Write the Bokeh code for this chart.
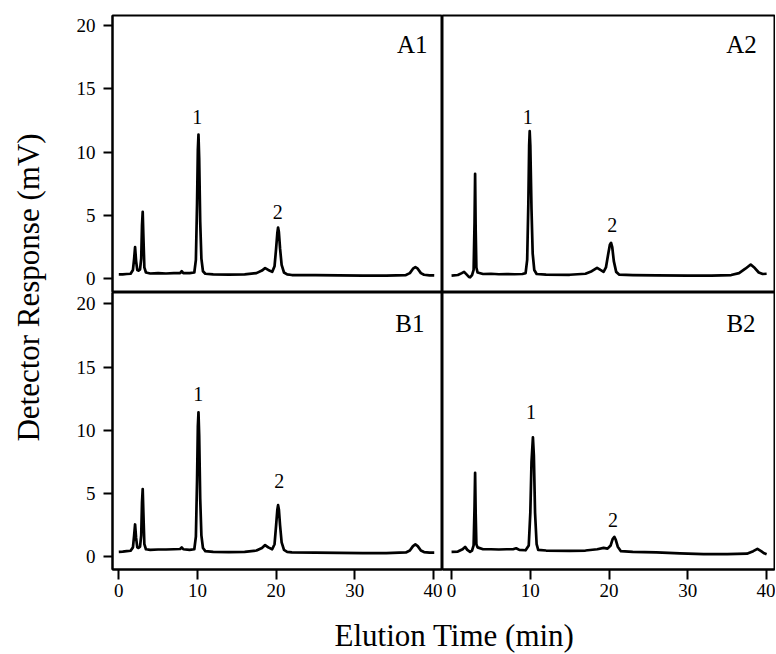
import math
from bokeh.plotting import figure
from bokeh.layouts import gridplot, row, column
from bokeh.models import Label, Range1d, FixedTicker
from bokeh.embed import file_html
from bokeh.resources import INLINE

# ---------------- data ----------------
a1_time = [0.0, 0.5, 1.0, 1.5, 1.8, 1.95, 2.07, 2.2, 2.35, 2.5, 2.7, 2.85, 2.95, 3.04, 3.12, 3.25, 3.45,
           4.0, 5.0, 6.0, 7.0, 7.8, 8.0, 8.2, 9.0, 9.6, 9.8, 9.95, 10.05, 10.13, 10.22, 10.35, 10.5, 10.7,
           11.0, 12.0, 14.0, 16.0, 17.5, 18.2, 18.6, 19.0, 19.5, 19.8, 20.0, 20.15, 20.25, 20.35, 20.5,
           20.7, 21.0, 21.4, 22.0, 25.0, 28.0, 31.0, 34.0, 36.5, 37.0, 37.4, 37.7, 38.0, 38.4, 38.8,
           39.5, 40.1]
a1_resp = [0.35, 0.35, 0.38, 0.40, 0.70, 1.6, 2.5, 1.4, 0.70, 0.65, 0.75, 1.6, 4.2, 5.3, 3.5, 0.9, 0.5,
           0.42, 0.45, 0.42, 0.45, 0.45, 0.6, 0.45, 0.45, 0.5, 1.5, 6.0, 10.2, 11.4, 9.5, 4.5, 1.6, 0.6,
           0.4, 0.35, 0.33, 0.35, 0.45, 0.65, 0.85, 0.7, 0.55, 1.0, 2.4, 3.6, 4.05, 3.7, 2.4,
           1.1, 0.5, 0.35, 0.3, 0.3, 0.28, 0.25, 0.26, 0.3, 0.45, 0.8, 0.92, 0.8, 0.45, 0.32,
           0.28, 0.27]

a2_time = [0.0, 0.8, 1.3, 1.59, 1.9, 2.2, 2.35, 2.6, 2.8, 2.92, 2.99, 3.06, 3.15, 3.3, 4.0, 5.0, 6.0,
           7.0, 8.0, 9.0, 9.4, 9.6, 9.75, 9.85, 9.92, 10.0, 10.15, 10.3, 10.5, 10.8, 12.0, 15.0, 17.0,
           17.8, 18.47, 18.9, 19.3, 19.6, 19.9, 20.1, 20.25, 20.4, 20.6, 20.9, 21.3, 23.0, 26.0, 30.0,
           33.0, 35.5, 36.5, 37.3, 37.98, 38.5, 39.0, 39.5, 40.0]
a2_resp = [0.26, 0.3, 0.45, 0.55, 0.35, 0.15, 0.12, 0.3, 0.7, 4.5, 8.29, 4.0, 0.9, 0.5, 0.38, 0.4, 0.36,
           0.38, 0.36, 0.38, 0.45, 1.5, 6.0, 10.5, 11.66, 10.5, 5.5, 2.0, 0.7, 0.38, 0.33, 0.32, 0.4,
           0.6, 0.87, 0.7, 0.55, 0.9, 2.0, 2.7, 2.84, 2.5, 1.4, 0.55, 0.33, 0.3, 0.28, 0.25,
           0.26, 0.3, 0.45, 0.8, 1.13, 0.85, 0.5, 0.38, 0.4]

b1_time = [0.0, 0.5, 1.0, 1.5, 1.8, 1.95, 2.07, 2.2, 2.35, 2.5, 2.7, 2.85, 2.95, 3.04, 3.12, 3.25, 3.45,
           4.0, 5.0, 6.0, 7.0, 7.8, 8.0, 8.2, 9.0, 9.6, 9.8, 9.95, 10.05, 10.13, 10.22, 10.35, 10.5, 10.7,
           11.0, 12.0, 14.0, 16.0, 17.5, 18.2, 18.6, 19.0, 19.5, 19.8, 20.0, 20.15, 20.25, 20.35, 20.5,
           20.7, 21.0, 21.4, 22.0, 25.0, 28.0, 31.0, 34.0, 36.5, 37.0, 37.4, 37.7, 38.0, 38.4, 38.8,
           39.5, 40.1]
b1_resp = [0.40, 0.42, 0.45, 0.48, 0.75, 1.7, 2.56, 1.5, 0.75, 0.7, 0.8, 1.7, 4.3, 5.36, 3.6, 1.0, 0.6,
           0.55, 0.58, 0.58, 0.6, 0.62, 0.75, 0.6, 0.55, 0.6, 1.6, 6.1, 10.3, 11.43, 9.6, 4.6, 1.7, 0.7,
           0.45, 0.4, 0.38, 0.4, 0.5, 0.7, 0.93, 0.75, 0.6, 1.0, 2.5, 3.7, 4.09, 3.75, 2.5,
           1.15, 0.55, 0.4, 0.35, 0.33, 0.32, 0.3, 0.3, 0.35, 0.5, 0.85, 0.98, 0.85, 0.5, 0.38,
           0.33, 0.33]

b2_time = [0.0, 0.8, 1.4, 1.72, 2.0, 2.35, 2.6, 2.8, 2.92, 2.99, 3.06, 3.15, 3.3, 4.0, 5.0, 6.0, 7.0,
           7.8, 8.2, 8.6, 9.4, 9.8, 10.0, 10.15, 10.33, 10.45, 10.6, 10.8, 11.0, 12.0, 15.0, 17.0, 18.5,
           19.3, 19.8, 20.2, 20.45, 20.67, 20.85, 21.1, 21.5, 23.0, 26.0, 29.0, 32.0, 35.0, 37.5, 38.3,
           38.83, 39.3, 39.7, 40.0]
b2_resp = [0.4, 0.42, 0.6, 0.79, 0.55, 0.4, 0.5, 0.9, 4.0, 6.65, 3.5, 1.0, 0.75, 0.6, 0.6, 0.58, 0.6,
           0.6, 0.68, 0.55, 0.52, 0.9, 3.5, 7.5, 9.45, 8.0, 3.5, 1.0, 0.55, 0.5, 0.48, 0.5, 0.6,
           0.71, 0.65, 0.9, 1.4, 1.58, 1.35, 0.8, 0.45, 0.4, 0.35, 0.28, 0.22, 0.22, 0.25, 0.45,
           0.63, 0.45, 0.28, 0.21]

panel_names = ["A1", "A2", "B1", "B2"]
peak_labels = ["1", "2"]
y_ticks = [0, 5, 10, 15, 20]
x_ticks = [0, 10, 20, 30, 40]
x_title = "Elution Time (min)"
y_title = "Detector Response (mV)"

# label anchors (text centres, layout only)
peak_label_pos = {
    "A1": [(9.96, 12.78), (20.2, 5.28)],
    "A2": [(9.67, 12.82), (20.4, 4.29)],
    "B1": [(10.1, 12.88), (20.4, 5.99)],
    "B2": [(10.1, 11.46), (20.5, 2.91)],
}
name_pos = {"A1": (39.24, 18.47), "A2": (38.74, 18.47), "B1": (38.86, 18.48), "B2": (38.6, 18.48)}

FONT = "Liberation Serif"
YW = 52
FRAME_W_L = 330
FRAME_W_R = 332
FRAME_H = 277
LEFT_BORDER = 60
TOP_BORDER = 15
BOTTOM_BORDER = 45
RIGHT_BORDER = 1


def make_panel(t, r, name, left, bottom):
    width = (LEFT_BORDER + FRAME_W_L) if left else (FRAME_W_R + RIGHT_BORDER)
    height = (TOP_BORDER + FRAME_H) if not bottom else (FRAME_H + BOTTOM_BORDER)
    xr = Range1d(-0.8, 41.15) if left else Range1d(-1.15, 41.0)
    yr = Range1d(-1.0, 20.9) if bottom else Range1d(-1.08, 20.8)
    p = figure(width=width, height=height, output_backend="svg", toolbar_location=None,
               x_range=xr, y_range=yr,
               x_axis_location="below" if bottom else None,
               y_axis_location="left" if left else None,
               min_border_left=LEFT_BORDER if left else 0,
               min_border_right=0 if left else RIGHT_BORDER,
               min_border_top=0 if bottom else TOP_BORDER,
               min_border_bottom=BOTTOM_BORDER if bottom else 0)
    p.xgrid.visible = False
    p.ygrid.visible = False
    p.outline_line_color = "black"
    p.outline_line_width = 2
    p.outline_line_alpha = 1
    p.background_fill_color = "white"
    p.border_fill_color = "white"
    for ax in list(p.xaxis) + list(p.yaxis):
        ax.axis_line_width = 2
        ax.axis_line_color = "black"
        ax.major_tick_line_width = 2
        ax.major_tick_line_color = "black"
        ax.major_tick_in = 0
        ax.minor_tick_line_color = None
        ax.major_label_text_font = FONT
        ax.major_label_text_font_size = "19px"
        ax.major_label_text_color = "black"
    if left:
        p.yaxis.ticker = FixedTicker(ticks=y_ticks)
        p.yaxis.major_tick_out = 9
        p.yaxis.major_label_standoff = 8
    if bottom:
        p.xaxis.ticker = FixedTicker(ticks=x_ticks)
        p.xaxis.major_tick_out = 10
        p.xaxis.major_label_standoff = 4

    p.line(t, r, line_color="black", line_width=2.7, line_join="round")

    nx, ny = name_pos[name]
    p.add_layout(Label(x=nx, y=ny, text=name, text_align="right", text_baseline="middle",
                       text_font=FONT, text_font_size="25px", text_color="black"))
    for lab, (lx, ly) in zip(peak_labels, peak_label_pos[name]):
        p.add_layout(Label(x=lx, y=ly, text=lab, text_align="center", text_baseline="middle",
                           text_font=FONT, text_font_size="20px", text_color="black"))
    return p


a1 = make_panel(a1_time, a1_resp, "A1", True, False)
a2 = make_panel(a2_time, a2_resp, "A2", False, False)
b1 = make_panel(b1_time, b1_resp, "B1", True, True)
b2 = make_panel(b2_time, b2_resp, "B2", False, True)

grid = gridplot([[a1, a2], [b1, b2]], toolbar_location=None)

GRID_H = TOP_BORDER + 2 * FRAME_H + BOTTOM_BORDER
yfig = figure(width=YW, height=GRID_H, output_backend="svg", toolbar_location=None,
              x_range=Range1d(0, YW), y_range=Range1d(0, GRID_H),
              x_axis_location=None, y_axis_location=None, min_border=0,
              outline_line_color=None)
yfig.xgrid.visible = False
yfig.ygrid.visible = False
yfig.add_layout(Label(x=28, y=GRID_H - 287, text=y_title, angle=math.pi / 2,
                      text_align="center", text_baseline="middle",
                      text_font=FONT, text_font_size="31px", text_color="black"))

TOTAL_W = YW + LEFT_BORDER + FRAME_W_L + FRAME_W_R + RIGHT_BORDER
XH = 653 - GRID_H
xfig = figure(width=TOTAL_W, height=XH, output_backend="svg", toolbar_location=None,
              x_range=Range1d(0, TOTAL_W), y_range=Range1d(0, XH),
              x_axis_location=None, y_axis_location=None, min_border=0,
              outline_line_color=None)
xfig.xgrid.visible = False
xfig.ygrid.visible = False
xfig.add_layout(Label(x=454, y=XH - 21, text=x_title, text_align="center", text_baseline="middle",
                      text_font=FONT, text_font_size="31px", text_color="black"))

root = column(row(yfig, grid), xfig)

open("out.html", "w").write(file_html(root, INLINE))
